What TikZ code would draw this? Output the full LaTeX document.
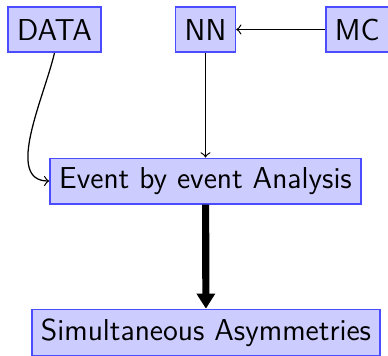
\documentclass[tikz,border=0pt]{standalone}
\usepackage{tikz}
\usetikzlibrary{arrows,arrows.meta,positioning}
\tikzset{blockbox/.style={draw=blue!70,fill=blue!20,line width=0.55pt,font=\sffamily\fontsize{11}{13}\selectfont,minimum height=16.4pt},
  thin arrow/.style={->,>=to,line width=0.45pt}}

\begin{document}
\begin{tikzpicture}[x=0.3636pt,y=0.3636pt]

\useasboundingbox (0,0) rectangle (388,-355);

% Nodes
\node[blockbox] (data) at (54.5,-29.5) {DATA};
\node[blockbox] (nn) at (205.5,-29.5) {NN};
\node[blockbox,anchor=west] (mc) at (325,-29.5) {MC};
\node[blockbox] (event) at (205.5,-181) {Event by event Analysis};
\node[blockbox] (asym) at (206,-332.5) {Simultaneous Asymmetries};

% The connectors
\draw[thin arrow] (mc) -- (nn);
\draw[thin arrow] (nn) -- (event);
\draw[thin arrow] (data.south) to[out=-103,in=180,looseness=0.9] (event.west);
\draw[-{Triangle[length=5.5pt,width=6.5pt]},line width=2.6pt] (event) -- (asym);

\end{tikzpicture}
\end{document}
